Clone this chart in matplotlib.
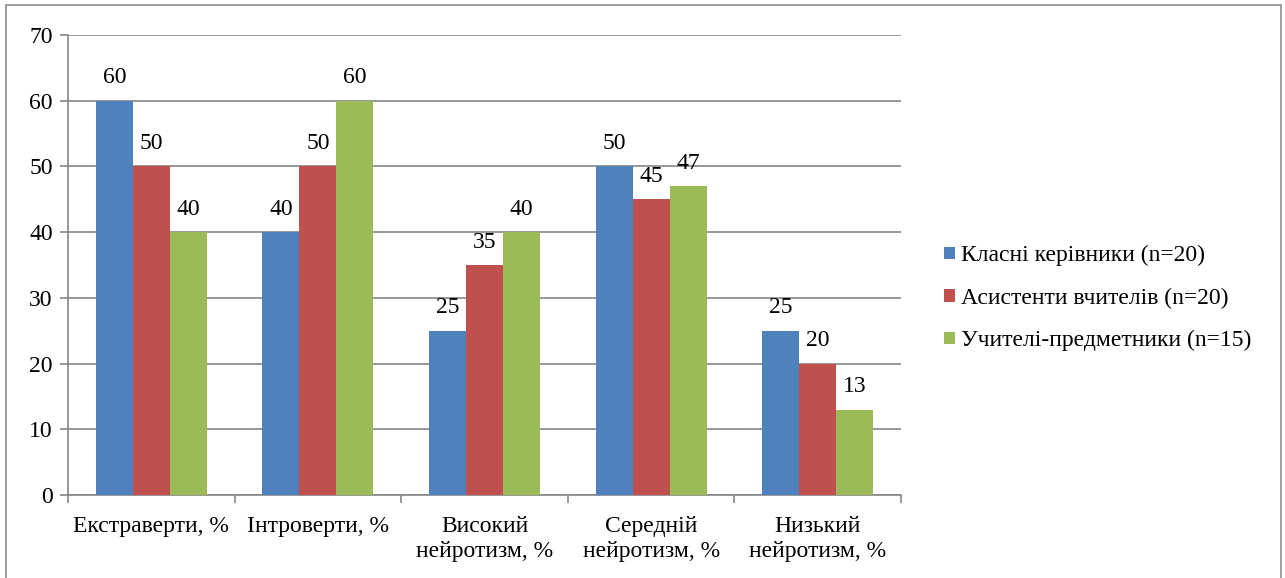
import matplotlib
matplotlib.use("Agg")
import matplotlib.pyplot as plt
from matplotlib.patches import Rectangle
import numpy as np

plt.rcParams['font.family'] = ['Liberation Serif', 'DejaVu Serif']

categories = ["Екстраверти, %", "Інтроверти, %", "Високий\nнейротизм, %",
              "Середній\nнейротизм, %", "Низький\nнейротизм, %"]
series_names = ["Класні керівники (n=20)", "Асистенти вчителів (n=20)",
                "Учителі-предметники (n=15)"]
class_teachers = [60, 40, 25, 50, 25]
assistants = [50, 50, 35, 45, 20]
subject_teachers = [40, 60, 40, 47, 13]
y_ticks = [0, 10, 20, 30, 40, 50, 60, 70]

colors = ["#4F81BD", "#C0504D", "#9BBB59"]
grid_color = "#868686"
FS = 17

fig = plt.figure(figsize=(12.85, 5.78), dpi=100)
W, H = 1285, 578
ax = fig.add_axes([68 / W, 1 - 495 / H, (901 - 68) / W, (495 - 35) / H])

# outer chart frame
fig.patches.append(Rectangle((6 / W, -0.01), (1281 - 6) / W, 1 - 5 / H + 0.01,
                             transform=fig.transFigure, fill=False,
                             edgecolor="#8c8c8c", linewidth=1.2))

x = np.arange(len(categories))
bw = 1 / 4.5
for i, (vals, name) in enumerate(zip([class_teachers, assistants, subject_teachers], series_names)):
    pos = x + (i - 1) * bw
    ax.bar(pos, vals, width=bw, color=colors[i], label=name, zorder=3)
    for p, v in zip(pos, vals):
        ax.text(p, v + 3.5, str(v), ha="center", va="center", fontsize=FS, zorder=4)

ax.set_xlim(-0.5, len(categories) - 0.5)
ax.set_ylim(0, 70)
ax.set_yticks(y_ticks)
ax.set_yticklabels([str(t) for t in y_ticks], fontsize=FS)
ax.yaxis.grid(True, color=grid_color, linewidth=1.2, zorder=0)
ax.set_axisbelow(True)

ax.set_xticks(x)
ax.set_xticklabels(categories, fontsize=FS, linespacing=1.25)
ax.tick_params(axis="x", length=0, pad=15)
ax.set_xticks(np.arange(-0.5, len(categories)), minor=True)
ax.tick_params(axis="x", which="minor", length=6, color=grid_color, width=1.2)
ax.tick_params(axis="y", length=6, color=grid_color, width=1.2, pad=5)

for s in ["top", "right"]:
    ax.spines[s].set_visible(False)
for s in ["left", "bottom"]:
    ax.spines[s].set_color(grid_color)
    ax.spines[s].set_linewidth(1.2)

leg = fig.legend(loc="upper left", bbox_to_anchor=(923 / W, 1 - 224 / H),
                 frameon=False, fontsize=FS, handlelength=0.45, handleheight=0.45,
                 handletextpad=0.25, labelspacing=0.9)

fig.savefig("out.png", dpi=100)
